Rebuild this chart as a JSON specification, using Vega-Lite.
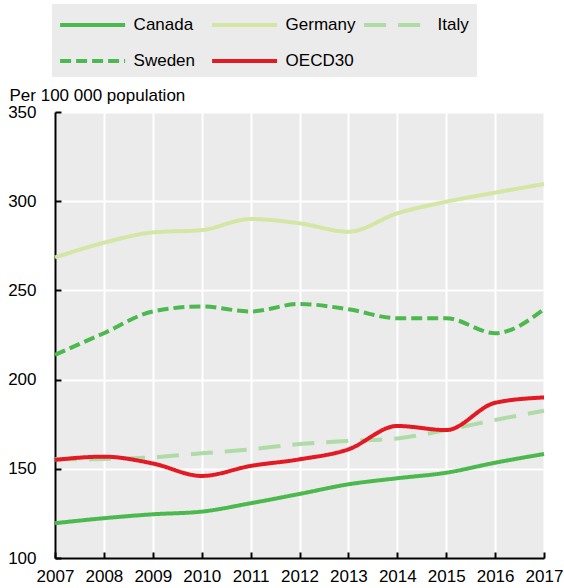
{
  "$schema": "https://vega.github.io/schema/vega-lite/v6.json",
  "width": 489,
  "height": 446,
  "autosize": {"type": "none"},
  "padding": {"left": 55, "top": 112, "right": 20, "bottom": 30},
  "background": "white",
  "config": {
    "view": {"fill": "#ebebeb", "stroke": null},
    "font": "Liberation Sans",
    "legend": {
      "orient": "none",
      "direction": "horizontal",
      "legendX": -3,
      "legendY": -108,
      "columns": 3,
      "gridAlign": "all",
      "fillColor": "#ebebeb",
      "padding": 8,
      "symbolType": "M-3,0H3",
      "symbolSize": 470,
      "symbolStrokeWidth": 4,
      "symbolOffset": 19.6,
      "labelFontSize": 17,
      "labelColor": "black",
      "labelOffset": 28,
      "columnPadding": 0,
      "rowPadding": 15,
      "labelLimit": 200
    }
  },
  "data": {
    "values": [
      {"country": "Canada", "year": 2007, "value": 119.5},
      {"country": "Canada", "year": 2008, "value": 122.3},
      {"country": "Canada", "year": 2009, "value": 124.5},
      {"country": "Canada", "year": 2010, "value": 126.0},
      {"country": "Canada", "year": 2011, "value": 130.7},
      {"country": "Canada", "year": 2012, "value": 135.9},
      {"country": "Canada", "year": 2013, "value": 141.3},
      {"country": "Canada", "year": 2014, "value": 144.7},
      {"country": "Canada", "year": 2015, "value": 147.8},
      {"country": "Canada", "year": 2016, "value": 153.4},
      {"country": "Canada", "year": 2017, "value": 158.3},
      {"country": "Germany", "year": 2007, "value": 268.5},
      {"country": "Germany", "year": 2008, "value": 276.7},
      {"country": "Germany", "year": 2009, "value": 282.5},
      {"country": "Germany", "year": 2010, "value": 283.8},
      {"country": "Germany", "year": 2011, "value": 290.0},
      {"country": "Germany", "year": 2012, "value": 287.6},
      {"country": "Germany", "year": 2013, "value": 282.9},
      {"country": "Germany", "year": 2014, "value": 293.2},
      {"country": "Germany", "year": 2015, "value": 299.7},
      {"country": "Germany", "year": 2016, "value": 304.8},
      {"country": "Germany", "year": 2017, "value": 309.6},
      {"country": "Italy", "year": 2007, "value": 155.3},
      {"country": "Italy", "year": 2008, "value": 155.5},
      {"country": "Italy", "year": 2009, "value": 156.4},
      {"country": "Italy", "year": 2010, "value": 158.7},
      {"country": "Italy", "year": 2011, "value": 160.9},
      {"country": "Italy", "year": 2012, "value": 163.9},
      {"country": "Italy", "year": 2013, "value": 165.6},
      {"country": "Italy", "year": 2014, "value": 167.0},
      {"country": "Italy", "year": 2015, "value": 171.7},
      {"country": "Italy", "year": 2016, "value": 177.4},
      {"country": "Italy", "year": 2017, "value": 182.5},
      {"country": "Sweden", "year": 2007, "value": 213.9},
      {"country": "Sweden", "year": 2008, "value": 226.0},
      {"country": "Sweden", "year": 2009, "value": 238.2},
      {"country": "Sweden", "year": 2010, "value": 241.0},
      {"country": "Sweden", "year": 2011, "value": 238.2},
      {"country": "Sweden", "year": 2012, "value": 242.4},
      {"country": "Sweden", "year": 2013, "value": 239.4},
      {"country": "Sweden", "year": 2014, "value": 234.4},
      {"country": "Sweden", "year": 2015, "value": 234.4},
      {"country": "Sweden", "year": 2016, "value": 226.0},
      {"country": "Sweden", "year": 2017, "value": 239.4},
      {"country": "OECD30", "year": 2007, "value": 155.0},
      {"country": "OECD30", "year": 2008, "value": 156.8},
      {"country": "OECD30", "year": 2009, "value": 153.0},
      {"country": "OECD30", "year": 2010, "value": 146.0},
      {"country": "OECD30", "year": 2011, "value": 151.6},
      {"country": "OECD30", "year": 2012, "value": 155.3},
      {"country": "OECD30", "year": 2013, "value": 160.9},
      {"country": "OECD30", "year": 2014, "value": 174.0},
      {"country": "OECD30", "year": 2015, "value": 171.7},
      {"country": "OECD30", "year": 2016, "value": 187.0},
      {"country": "OECD30", "year": 2017, "value": 190.0}
    ]
  },
  "mark": {"type": "line", "interpolate": "monotone", "strokeWidth": 4},
  "encoding": {
    "x": {
      "field": "year",
      "type": "quantitative",
      "scale": {"domain": [2007, 2017], "nice": false, "zero": false},
      "axis": {
        "title": null,
        "values": [2007, 2008, 2009, 2010, 2011, 2012, 2013, 2014, 2015, 2016, 2017],
        "format": "d",
        "grid": true,
        "gridColor": "white",
        "gridWidth": 2,
        "domainColor": "black",
        "domainWidth": 2,
        "tickColor": "black",
        "tickWidth": 2,
        "tickSize": -6,
        "labelFontSize": 17,
        "labelColor": "black",
        "labelPadding": 16,
        "labelFlush": false
      }
    },
    "y": {
      "field": "value",
      "type": "quantitative",
      "scale": {"domain": [100, 350], "nice": false, "zero": false},
      "axis": {
        "title": "Per 100 000 population",
        "titleAngle": 0,
        "titleAlign": "left",
        "titleBaseline": "middle",
        "titleX": -46,
        "titleY": -17,
        "titleFontSize": 17,
        "titleFontWeight": "normal",
        "titleColor": "black",
        "values": [100, 150, 200, 250, 300, 350],
        "grid": true,
        "gridColor": "white",
        "gridWidth": 2,
        "domainColor": "black",
        "domainWidth": 2,
        "tickColor": "black",
        "tickWidth": 2,
        "tickSize": -6,
        "labelFontSize": 17,
        "labelColor": "black",
        "labelPadding": 25
      }
    },
    "color": {
      "field": "country",
      "type": "nominal",
      "title": null,
      "sort": ["Canada", "Germany", "Italy", "Sweden", "OECD30"],
      "scale": {
        "domain": ["Canada", "Germany", "Italy", "Sweden", "OECD30"],
        "range": ["#4cb94f", "#d3e6a4", "#aedba6", "#4cb94f", "#e31a24"]
      }
    },
    "strokeDash": {
      "field": "country",
      "type": "nominal",
      "title": null,
      "sort": ["Canada", "Germany", "Italy", "Sweden", "OECD30"],
      "scale": {
        "domain": ["Canada", "Germany", "Italy", "Sweden", "OECD30"],
        "range": [[1, 0], [1, 0], [22, 12], [11, 5], [1, 0]]
      }
    }
  }
}
